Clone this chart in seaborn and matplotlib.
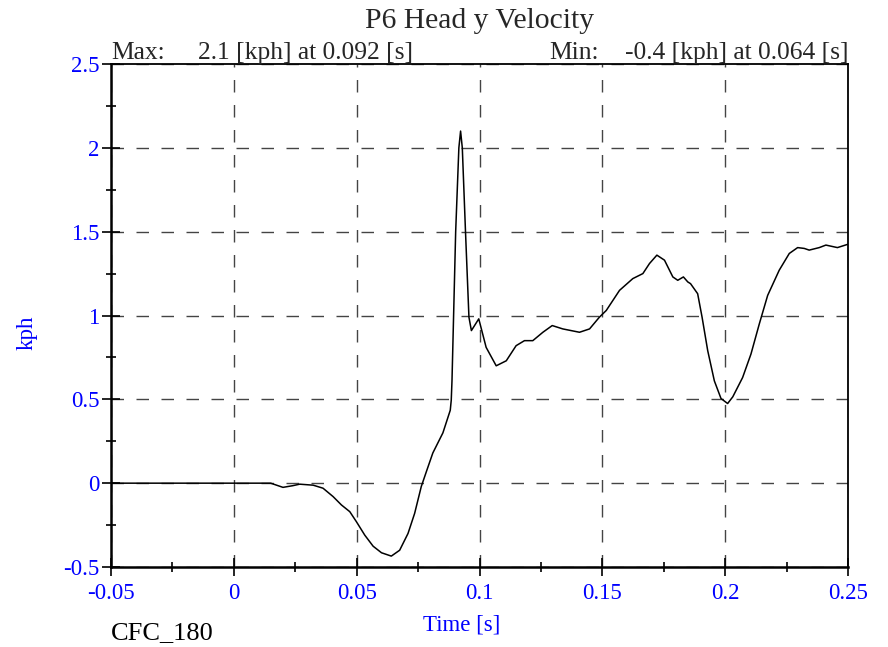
import matplotlib
matplotlib.use("Agg")
import matplotlib.pyplot as plt
from matplotlib.ticker import MultipleLocator
import seaborn as sns
import pandas as pd

# time [s] and head y velocity [kph]
time_s = [-0.05, 0.0, 0.015, 0.02, 0.024, 0.0268, 0.0323, 0.0363, 0.0404,
          0.0438, 0.0472, 0.0499, 0.0533, 0.0567, 0.0601, 0.0641, 0.0675,
          0.0709, 0.0736, 0.0763, 0.0784, 0.081, 0.0851, 0.0881, 0.0885,
          0.0888, 0.0903, 0.0916, 0.0923, 0.093, 0.0943, 0.0957, 0.0967,
          0.0997, 0.1027, 0.1068, 0.1109, 0.1149, 0.1183, 0.1217, 0.1258,
          0.1296, 0.1339, 0.1407, 0.1448, 0.1488, 0.1516, 0.157, 0.1624,
          0.1665, 0.1692, 0.1722, 0.1753, 0.1787, 0.1807, 0.183, 0.1848,
          0.1859, 0.1888, 0.1906, 0.1929, 0.1956, 0.1983, 0.201, 0.2031,
          0.2071, 0.2105, 0.2139, 0.2173, 0.222, 0.2261, 0.2295, 0.2322,
          0.2342, 0.2383, 0.241, 0.2457, 0.25]
vel_kph = [0.0, 0.0, 0.0, -0.025, -0.015, -0.006, -0.012, -0.03, -0.08,
           -0.13, -0.17, -0.23, -0.31, -0.376, -0.415, -0.435, -0.40,
           -0.30, -0.18, -0.02, 0.07, 0.18, 0.30, 0.435, 0.495,
           0.61, 1.5, 2.0, 2.1, 2.0, 1.5, 0.99, 0.91,
           0.98, 0.81, 0.70, 0.73, 0.82, 0.85, 0.85, 0.90,
           0.94, 0.92, 0.90, 0.92, 0.99, 1.03, 1.15, 1.22,
           1.25, 1.31, 1.36, 1.33, 1.23, 1.21, 1.23, 1.20,
           1.19, 1.13, 0.99, 0.79, 0.61, 0.505, 0.475, 0.515,
           0.63, 0.77, 0.95, 1.12, 1.27, 1.37, 1.405, 1.40,
           1.39, 1.405, 1.42, 1.405, 1.425]

title = "P6 Head y Velocity"
max_text = "2.1 [kph] at 0.092 [s]"
min_text = "-0.4 [kph] at 0.064 [s]"
x_ticks = [-0.05, 0, 0.05, 0.1, 0.15, 0.2, 0.25]
y_ticks = [-0.5, 0, 0.5, 1, 1.5, 2, 2.5]

sns.set_style("white")
plt.rcParams["font.family"] = ["Liberation Serif", "DejaVu Serif"]

W, H = 888, 647
fig = plt.figure(figsize=(W / 100, H / 100), dpi=100)
ax = fig.add_axes([111 / W, 1 - 567 / H, (848 - 111) / W, (567 - 64) / H])

df = pd.DataFrame({"t": time_s, "v": vel_kph})
sns.lineplot(data=df, x="t", y="v", ax=ax, color="black", linewidth=1.1,
             estimator=None, sort=False)

ax.set_xlim(-0.05, 0.25)
ax.set_ylim(-0.5, 2.5)
ax.set_xticks(x_ticks)
ax.set_xticklabels(["-0.05", "0", "0.05", "0.1", "0.15", "0.2", "0.25"])
ax.set_yticks(y_ticks)
ax.set_yticklabels(["-0.5", "0", "0.5", "1", "1.5", "2", "2.5"])
ax.xaxis.set_minor_locator(MultipleLocator(0.025))
ax.yaxis.set_minor_locator(MultipleLocator(0.25))
ax.tick_params(which="major", direction="inout", length=13, width=1.2,
               colors="black", labelcolor="blue", labelsize=16.5)
ax.tick_params(axis="x", which="major", pad=5)
ax.tick_params(axis="y", which="major", pad=2)
ax.tick_params(which="minor", direction="inout", length=7, width=1.2, colors="black")
ax.tick_params(which="both", bottom=True, left=True, top=False, right=False)

ax.grid(True, which="major", color="#444444", linestyle=(0, (9, 9)), linewidth=1.0)
for s in ax.spines.values():
    s.set_color("black")
    s.set_linewidth(1.3)
ax.spines["left"].set_linewidth(1.8)
ax.spines["bottom"].set_linewidth(1.8)
ax.set_xlabel("")
ax.set_ylabel("")

def px(x, y):
    return x / W, 1 - y / H

fig.text(*px(480, 28), title, ha="center", va="baseline", fontsize=21.3)
ax.text(0.0, 1.01, "Max:", transform=ax.transAxes, ha="left", va="baseline", fontsize=18.4)
ax.text(0.118, 1.01, max_text, transform=ax.transAxes, ha="left", va="baseline", fontsize=18.4)
ax.text(0.594, 1.01, "Min:", transform=ax.transAxes, ha="left", va="baseline", fontsize=18.4)
ax.text(1.0, 1.01, min_text, transform=ax.transAxes, ha="right", va="baseline", fontsize=18.4)
fig.text(*px(462, 630), "Time [s]", ha="center", va="baseline", fontsize=16.5, color="blue")
fig.text(*px(27, 333), "kph", ha="center", va="center", rotation=90, fontsize=16.5, color="blue")
fig.text(*px(111, 639), "CFC_180", ha="left", va="baseline", fontsize=19, color="black")

fig.savefig("out.png", dpi=100)
